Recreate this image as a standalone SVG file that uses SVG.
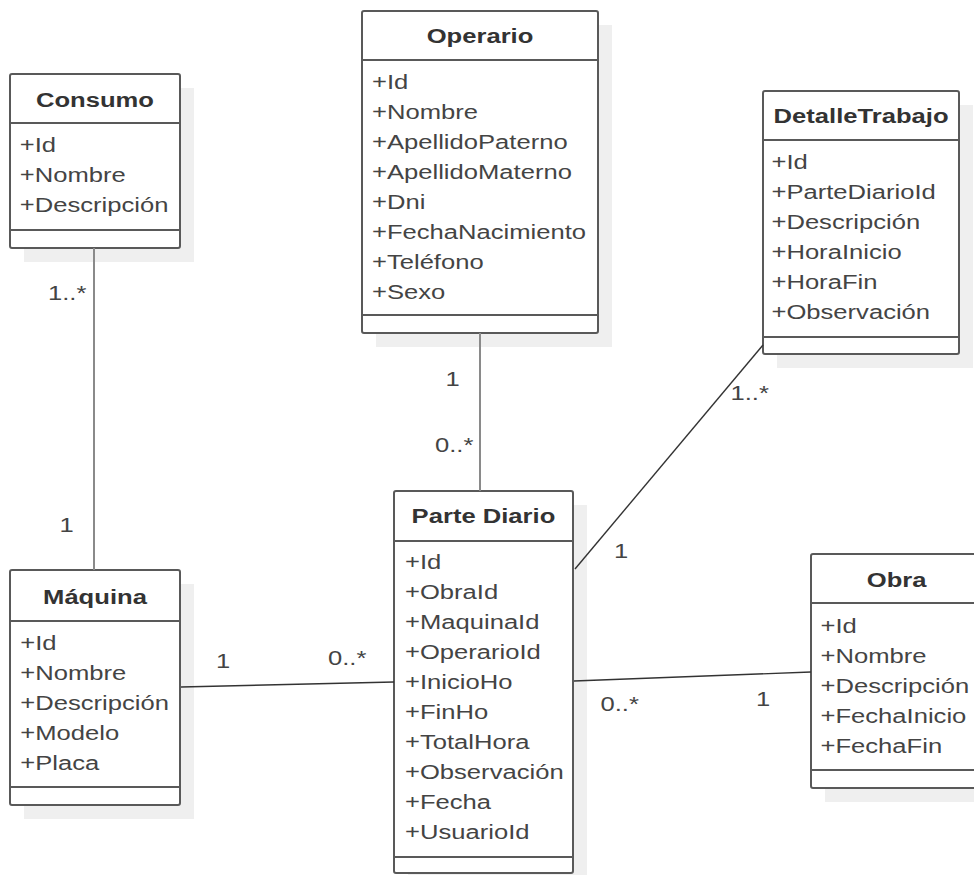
<svg xmlns="http://www.w3.org/2000/svg" width="974" height="875" viewBox="0 0 974 875">
<style>
.sh{fill:#efefef;stroke:none}
.box{fill:#fff;stroke:#595959;stroke-width:2}
.sep{stroke:#595959;stroke-width:2;fill:none}
.t{font-family:"Liberation Sans",Arial,sans-serif;font-size:20px;font-weight:bold;fill:#333;text-anchor:middle}
.a{font-family:"Liberation Sans",Arial,sans-serif;font-size:20px;fill:#444}
.lbl{font-family:"Liberation Sans",Arial,sans-serif;font-size:20px;fill:#444}
.c1{stroke:#8a8a8a;stroke-width:2;fill:none}
.c2{stroke:#333;stroke-width:1.4;fill:none}
</style>
<rect width="974" height="875" fill="#fff"/>
<g id="consumo">
<rect class="sh" x="24" y="88" width="170" height="174"/>
<rect class="box" x="10" y="74" width="170" height="174" rx="2"/>
<line class="sep" x1="10" y1="123" x2="180" y2="123"/>
<line class="sep" x1="10" y1="230" x2="180" y2="230"/>
<g transform="scale(1.28 1)">
<text class="t" x="74.2" y="107">Consumo</text>
<text class="a" x="15.4" y="152">+Id</text>
<text class="a" x="15.4" y="182">+Nombre</text>
<text class="a" x="15.4" y="212">+Descripción</text>
</g>
</g>
<g id="maquina">
<rect class="sh" x="24" y="584" width="170" height="235"/>
<rect class="box" x="10" y="570" width="170" height="235" rx="2"/>
<line class="sep" x1="10" y1="621" x2="180" y2="621"/>
<line class="sep" x1="10" y1="787" x2="180" y2="787"/>
<g transform="scale(1.28 1)">
<text class="t" x="74.2" y="604">Máquina</text>
<text class="a" x="15.8" y="650">+Id</text>
<text class="a" x="15.8" y="680">+Nombre</text>
<text class="a" x="15.8" y="710">+Descripción</text>
<text class="a" x="15.8" y="740">+Modelo</text>
<text class="a" x="15.8" y="770">+Placa</text>
</g>
</g>
<g id="operario">
<rect class="sh" x="376" y="25" width="236" height="322"/>
<rect class="box" x="362" y="11" width="236" height="322" rx="2"/>
<line class="sep" x1="362" y1="60" x2="598" y2="60"/>
<line class="sep" x1="362" y1="315" x2="598" y2="315"/>
<g transform="scale(1.28 1)">
<text class="t" x="375" y="43">Operario</text>
<text class="a" x="290.6" y="89">+Id</text>
<text class="a" x="290.6" y="119">+Nombre</text>
<text class="a" x="290.6" y="149">+ApellidoPaterno</text>
<text class="a" x="290.6" y="179">+ApellidoMaterno</text>
<text class="a" x="290.6" y="209">+Dni</text>
<text class="a" x="290.6" y="239">+FechaNacimiento</text>
<text class="a" x="290.6" y="269">+Teléfono</text>
<text class="a" x="290.6" y="299">+Sexo</text>
</g>
</g>
<g id="detalletrabajo">
<rect class="sh" x="777" y="105" width="196" height="263"/>
<rect class="box" x="763" y="91" width="196" height="263" rx="2"/>
<line class="sep" x1="763" y1="140" x2="959" y2="140"/>
<line class="sep" x1="763" y1="337" x2="959" y2="337"/>
<g transform="scale(1.28 1)">
<text class="t" x="672.7" y="123">DetalleTrabajo</text>
<text class="a" x="602.7" y="169">+Id</text>
<text class="a" x="602.7" y="199">+ParteDiarioId</text>
<text class="a" x="602.7" y="229">+Descripción</text>
<text class="a" x="602.7" y="259">+HoraInicio</text>
<text class="a" x="602.7" y="289">+HoraFin</text>
<text class="a" x="602.7" y="319">+Observación</text>
</g>
</g>
<g id="partediario">
<rect class="sh" x="408" y="505" width="179" height="382"/>
<rect class="box" x="394" y="491" width="179" height="382" rx="2"/>
<line class="sep" x1="394" y1="541" x2="573" y2="541"/>
<line class="sep" x1="394" y1="857" x2="573" y2="857"/>
<g transform="scale(1.28 1)">
<text class="t" x="377.7" y="523">Parte Diario</text>
<text class="a" x="316.4" y="569">+Id</text>
<text class="a" x="316.4" y="599">+ObraId</text>
<text class="a" x="316.4" y="629">+MaquinaId</text>
<text class="a" x="316.4" y="659">+OperarioId</text>
<text class="a" x="316.4" y="689">+InicioHo</text>
<text class="a" x="316.4" y="719">+FinHo</text>
<text class="a" x="316.4" y="749">+TotalHora</text>
<text class="a" x="316.4" y="779">+Observación</text>
<text class="a" x="316.4" y="809">+Fecha</text>
<text class="a" x="316.4" y="839">+UsuarioId</text>
</g>
</g>
<g id="obra">
<rect class="sh" x="825" y="568" width="173" height="234"/>
<rect class="box" x="811" y="554" width="173" height="234" rx="2"/>
<line class="sep" x1="811" y1="603" x2="984" y2="603"/>
<line class="sep" x1="811" y1="770" x2="984" y2="770"/>
<g transform="scale(1.28 1)">
<text class="t" x="700.5" y="587">Obra</text>
<text class="a" x="641" y="633">+Id</text>
<text class="a" x="641" y="663">+Nombre</text>
<text class="a" x="641" y="693">+Descripción</text>
<text class="a" x="641" y="723">+FechaInicio</text>
<text class="a" x="641" y="753">+FechaFin</text>
</g>
</g>
<g id="connectors">
<line class="c1" x1="94" y1="248" x2="94" y2="570"/>
<line class="c1" x1="480" y1="333" x2="480" y2="491"/>
<line class="c2" x1="763" y1="345" x2="575" y2="569"/>
<line class="c2" x1="181" y1="687" x2="394" y2="682"/>
<line class="c2" x1="574" y1="681" x2="811" y2="672"/>
<g transform="scale(1.28 1)">
<text class="lbl" x="37.5" y="300">1..*</text>
<text class="lbl" x="46.5" y="532">1</text>
<text class="lbl" x="348" y="386">1</text>
<text class="lbl" x="339.8" y="452">0..*</text>
<text class="lbl" x="570.7" y="400">1..*</text>
<text class="lbl" x="479.7" y="558">1</text>
<text class="lbl" x="168.75" y="668">1</text>
<text class="lbl" x="256.25" y="665">0..*</text>
<text class="lbl" x="469.1" y="711">0..*</text>
<text class="lbl" x="590.6" y="706">1</text>
</g>
</g>
</svg>
